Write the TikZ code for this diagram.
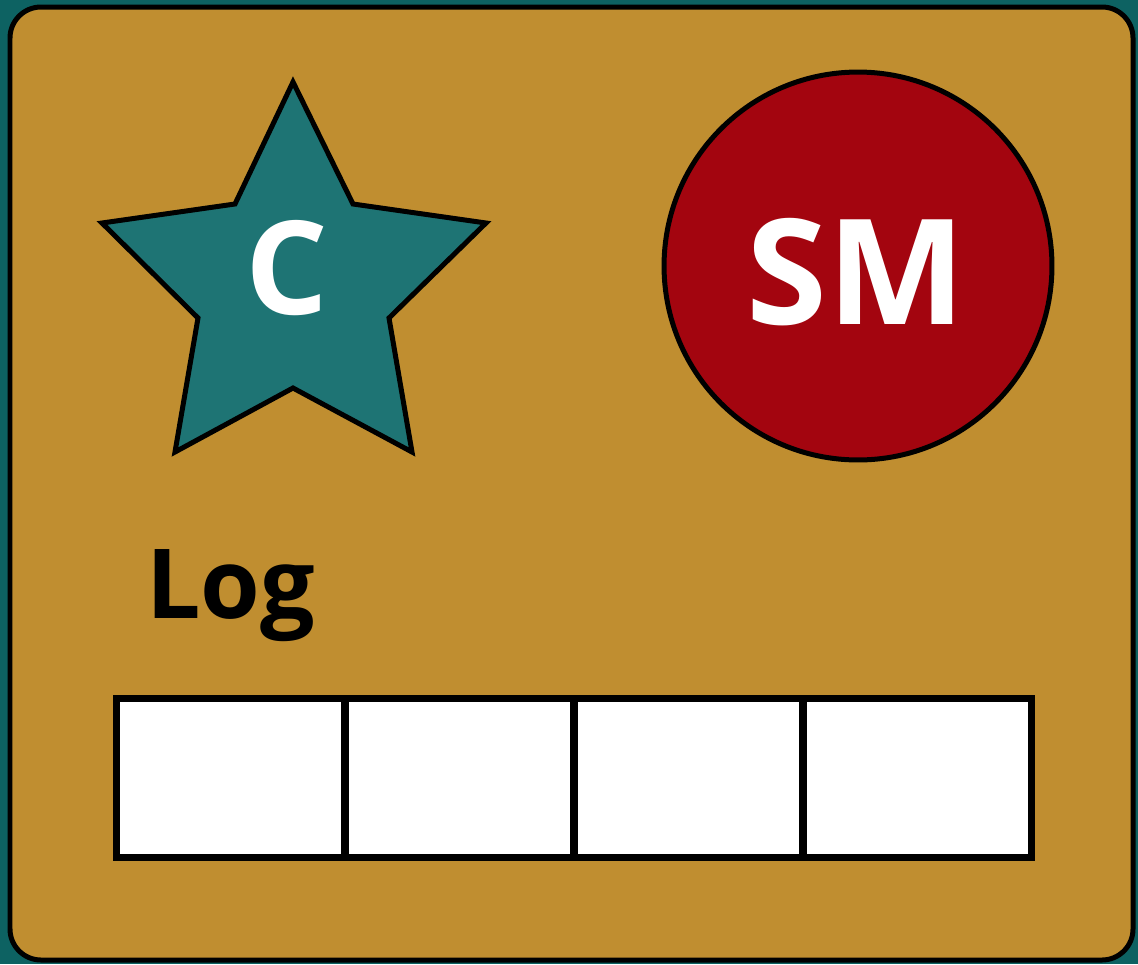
\documentclass[tikz,border=0pt]{standalone}
\usepackage{fontspec}
\setmainfont{Open Sans}
\usepackage{xcolor}
\usetikzlibrary{positioning}

\definecolor{bgteal}{HTML}{0D6262}
\definecolor{cardochre}{HTML}{C08E30}
\definecolor{starteal}{HTML}{1E7474}
\definecolor{smred}{HTML}{A3050F}

\begin{document}
\begin{tikzpicture}[
    x=0.02cm, y=-0.02cm,
    card/.style={draw=black, line width=0.1cm, fill=cardochre, rounded corners=0.62cm},
    badge/.style={draw=black, line width=0.1cm},
    logcell/.style={rectangle, draw=black, fill=white, line width=0.14cm, minimum width=4.58cm, minimum height=3.18cm, inner sep=0pt},
    bigtext/.style={text=white, font=\bfseries},
]

% background and card
\fill[bgteal] (0,0) rectangle (1138,964);
\useasboundingbox (0,0) rectangle (1138,964);
\draw[card] (10,7) rectangle (1133,960);

% star badge
\draw[badge, fill=starteal] (293,82) -- (353,204) -- (486,223) -- (389,318) -- (412,452)
    -- (293,388) -- (175,452) -- (198,318) -- (102,223) -- (235,204) -- cycle;
\node[bigtext, font=\fontsize{74}{76}\selectfont\bfseries] (cstar) at (287,268) {C};

% circle badge
\node[circle, badge, fill=smred, minimum size=7.76cm, inner sep=0pt] (smcircle) at (858,266) {};
\node[bigtext, font=\fontsize{83.5}{86}\selectfont\bfseries] (smlabel) at (856,272) {SM};

% log
\node[anchor=base west, inner sep=0pt, font=\fontsize{55}{57}\selectfont\bfseries] (logtitle) at (146,618) {Log};

\node[logcell] (cell1) at (230.5,777.5) {};
\node[logcell] (cell2) at (459.5,777.5) {};
\node[logcell] (cell3) at (688.5,777.5) {};
\node[logcell] (cell4) at (917.5,777.5) {};

\end{tikzpicture}
\end{document}
